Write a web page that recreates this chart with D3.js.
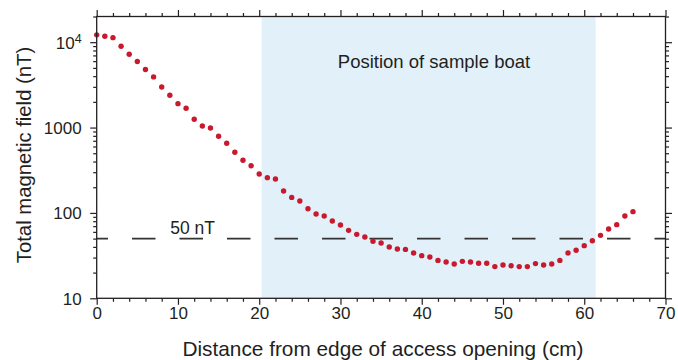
<!DOCTYPE html>
<html>
<head>
<meta charset="utf-8">
<script src="https://cdn.jsdelivr.net/npm/d3@7"></script>
<style>
  body { margin: 0; background: #fff; }
  text { font-family: "Liberation Sans", Arial, sans-serif; fill: #231f20; }
</style>
</head>
<body>
<svg id="canvas" width="678" height="360"></svg>
<script>
// distance from edge of access opening (cm)
let distance = [0, 1, 2, 3, 4, 5, 6, 7, 8, 9, 10, 11, 12, 13, 14, 15, 16, 17, 18, 19,
  20, 21, 22, 23, 24, 25, 26, 27, 28, 29, 30, 31, 32, 33, 34, 35, 36, 37, 38, 39,
  40, 41, 42, 43, 44, 45, 46, 47, 48, 49, 50, 51, 52, 53, 54, 55, 56, 57, 58, 59,
  60, 61, 62, 63, 64, 65, 66]
// total magnetic field (nT)
let field = [12200, 11750, 11300, 8980, 7230, 5930, 4780, 3920, 2990, 2390,
  1906, 1683, 1250, 1044, 990, 790, 655, 514, 414, 357,
  286, 259, 250, 181, 152, 138, 112, 97.3, 92.2, 80.6,
  72.3, 62.5, 56.1, 52.3, 46.5, 44.5, 39.9, 37.8, 37.4, 34.0,
  31.6, 30.5, 27.8, 26.6, 25.2, 27.1, 26.6, 25.7, 25.7, 23.5,
  24.6, 24.1, 23.5, 23.5, 25.5, 24.6, 25.2, 27.8, 34.0, 36.5,
  41.4, 47.3, 54.6, 64.9, 72.9, 92.2, 103.5]

let xMajor = [0, 10, 20, 30, 40, 50, 60, 70]
let xMinor = [2, 4, 6, 8, 12, 14, 16, 18, 22, 24, 26, 28, 32, 34, 36, 38, 42, 44, 46, 48, 52, 54, 56, 58, 62, 64, 66, 68]
let yMajor = [10, 100, 1000, 10000]
let yMajorLabels = ['10', '100', '1000', '10^4']
let yMinor = [20, 30, 40, 50, 60, 70, 80, 90, 200, 300, 400, 500, 600, 700, 800, 900,
  2000, 3000, 4000, 5000, 6000, 7000, 8000, 9000, 20000]

let boatRange = [20.3, 61.4]
let threshold = 50

let canvas = d3.select('#canvas')

let xScale = d3.scaleLinear().domain([0, 70]).range([96.7, 665.5])
let yScale = d3.scaleLog().domain([10, 20000]).range([298.3, 16.5])

let x0 = xScale.range()[0], x1 = xScale.range()[1]
let yTop = yScale.range()[1], yBot = yScale.range()[0]

// shaded region of the sample boat
canvas.append('rect')
      .attr('x', xScale(boatRange[0]))
      .attr('y', yTop)
      .attr('width', xScale(boatRange[1]) - xScale(boatRange[0]))
      .attr('height', yBot - yTop)
      .attr('fill', '#e2f0fa')

canvas.append('text')
      .attr('x', 434)
      .attr('y', 68)
      .attr('text-anchor', 'middle')
      .attr('font-size', '18.5px')
      .text('Position of sample boat')

// 50 nT dashed line
canvas.append('line')
      .attr('x1', x0)
      .attr('x2', x1)
      .attr('y1', yScale(threshold))
      .attr('y2', yScale(threshold))
      .attr('stroke', '#333')
      .attr('stroke-width', 1.8)
      .attr('stroke-dasharray', '23.5,24')
      .attr('stroke-dashoffset', 12.2)

canvas.append('text')
      .attr('x', xScale(11.8))
      .attr('y', yScale(threshold) - 5)
      .attr('text-anchor', 'middle')
      .attr('font-size', '17.5px')
      .text(threshold + ' nT')

// points
canvas.selectAll('circle')
      .data(distance)
      .enter()
      .append('circle')
      .attr('cx', (d) => xScale(d))
      .attr('cy', (d, i) => yScale(field[i]))
      .attr('r', 2.7)
      .attr('fill', '#c8192e')

// axes, ticks pointing outward
let drawAxis = (axisFn, scale, major, minor, transform, showLabels) => {
  let gMinor = canvas.append('g').attr('transform', transform)
  gMinor.call(axisFn(scale).tickValues(minor).tickSize(3.5).tickFormat(''))
  let gMajor = canvas.append('g').attr('transform', transform)
  gMajor.call(axisFn(scale).tickValues(major).tickSize(6.5).tickFormat(showLabels ? null : ''))
  canvas.selectAll('.domain').remove()
  ;[gMinor, gMajor].forEach((g) => g.selectAll('line').attr('stroke', '#231f20').attr('stroke-width', 1.2))
  return gMajor
}

let bottom = drawAxis(d3.axisBottom, xScale, xMajor, xMinor, `translate(0,${yBot})`, true)
bottom.selectAll('text')
      .attr('font-size', '17px')
      .attr('fill', '#231f20')
      .attr('y', 9)
drawAxis(d3.axisTop, xScale, xMajor, xMinor, `translate(0,${yTop})`, false)

let left = drawAxis(d3.axisLeft, yScale, yMajor, yMinor, `translate(${x0},0)`, false)
left.selectAll('.tick text').remove()
left.selectAll('.tick').each(function (d, i) {
  let t = d3.select(this).append('text')
        .attr('x', -15)
        .attr('dy', '0.35em')
        .attr('text-anchor', 'end')
        .attr('font-size', '17px')
  let label = yMajorLabels[i]
  if (label.includes('^')) {
    let parts = label.split('^')
    t.append('tspan').text(parts[0])
    t.append('tspan').attr('dy', '-0.45em').attr('font-size', '12.5px').text(parts[1])
  } else {
    t.text(label)
  }
})
drawAxis(d3.axisRight, yScale, yMajor, yMinor, `translate(${x1},0)`, false)

// frame
canvas.append('rect')
      .attr('x', x0)
      .attr('y', yTop)
      .attr('width', x1 - x0)
      .attr('height', yBot - yTop)
      .attr('fill', 'none')
      .attr('stroke', '#231f20')
      .attr('stroke-width', 1.3)

// axis titles
canvas.append('text')
      .attr('x', 383)
      .attr('y', 356)
      .attr('text-anchor', 'middle')
      .attr('font-size', '20.8px')
      .text('Distance from edge of access opening (cm)')

canvas.append('text')
      .attr('transform', 'translate(31,155) rotate(-90)')
      .attr('text-anchor', 'middle')
      .attr('font-size', '20.3px')
      .text('Total magnetic field (nT)')
</script>
</body>
</html>
